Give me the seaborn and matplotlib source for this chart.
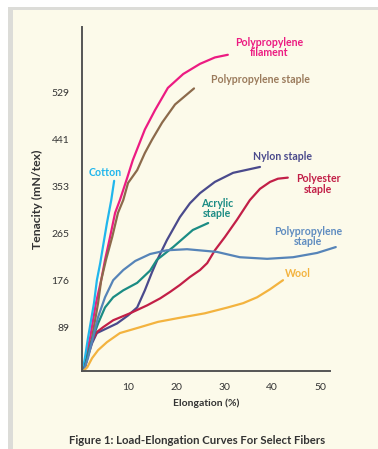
import pandas as pd
import matplotlib.pyplot as plt
import seaborn as sns
from matplotlib.patches import Rectangle

# =========================
# DATA
# =========================
pp_filament_x = [0.6, 2.1, 3.3, 4.4, 5.2, 6.25, 7.3, 8.3, 9.8, 11.0, 12.1, 13.5,
                 15.6, 18.3, 21.5, 25.0, 28.1, 30.8]
pp_filament_y = [8, 70, 134, 177, 215, 258, 303, 327, 368, 402, 427, 459,
                 495, 537, 563, 582, 594, 599]

pp_staple_x = [0.8, 2.5, 3.75, 4.4, 5.4, 6.7, 7.9, 9.0, 10.0, 11.9, 13.5, 15.0,
               17.1, 19.8, 23.75]
pp_staple_y = [8, 70, 134, 177, 215, 258, 303, 327, 359, 383, 415, 440,
               472, 506, 536]

cotton_x = [0.6, 1.67, 2.9, 3.5, 4.2, 5.0, 5.6, 6.5, 7.1]
cotton_y = [8, 70, 134, 177, 209, 252, 284, 327, 363]

nylon_x = [0.8, 1.67, 2.5, 3.5, 5.6, 7.7, 10.0, 11.9, 13.5, 15.0, 16.25, 18.1,
           20.8, 22.9, 25.0, 28.1, 31.9, 37.5]
nylon_y = [8, 36, 59, 78, 87, 96, 111, 126, 158, 192, 218, 252,
           295, 321, 340, 361, 378, 389]

polyester_x = [0.8, 1.5, 2.5, 3.5, 4.8, 6.9, 10.4, 14.0, 16.7, 18.75, 20.8, 22.9,
               25.0, 26.5, 28.1, 30.2, 32.7, 35.4, 37.5, 39.6, 41.25, 43.3]
polyester_y = [8, 31, 64, 80, 89, 102, 115, 130, 143, 155, 168, 183,
               196, 209, 233, 258, 290, 327, 348, 361, 367, 369]

acrylic_x = [0.8, 1.67, 2.7, 3.75, 5.2, 6.9, 9.0, 11.9, 14.6, 16.0, 19.4, 23.5, 26.7]
acrylic_y = [8, 40, 70, 96, 126, 145, 158, 172, 195, 215, 239, 271, 284]

pp_staple2_x = [0.8, 1.67, 2.7, 3.75, 5.2, 6.9, 9.0, 11.5, 14.6, 18.1, 22.3, 28.5,
                33.3, 39.0, 44.4, 49.4, 53.3]
pp_staple2_y = [8, 32, 70, 108, 145, 177, 196, 213, 226, 233, 235, 230,
                220, 217, 220, 228, 239]

wool_x = [0.8, 1.5, 2.5, 3.75, 5.6, 8.3, 12.5, 16.25, 20.4, 26.0, 30.8, 34.0,
          36.9, 39.6, 42.3]
wool_y = [8, 14, 31, 46, 61, 78, 89, 99, 106, 115, 126, 134,
          145, 160, 177]

fibers = ["pp_filament", "pp_staple", "cotton", "nylon", "polyester",
          "acrylic", "pp_staple2", "wool"]
xs = [pp_filament_x, pp_staple_x, cotton_x, nylon_x, polyester_x,
      acrylic_x, pp_staple2_x, wool_x]
ys = [pp_filament_y, pp_staple_y, cotton_y, nylon_y, polyester_y,
      acrylic_y, pp_staple2_y, wool_y]

line_colors = ["#ec1b82", "#8c6a4b", "#21b6ec", "#4a4a8c", "#c21f47",
               "#1b8c84", "#5684b8", "#f3b33f"]

label_texts = ["Polypropylene\nfilament", "Polypropylene staple", "Cotton",
               "Nylon staple", "Polyester\nstaple", "Acrylic\nstaple",
               "Polypropylene\nstaple", "Wool"]
label_x = [39.4, 37.5, 5.2, 42.1, 49.6, 28.5, 47.5, 45.4]
label_y = [612, 552, 378, 408, 357, 312, 258, 190]
label_colors = ["#ec1b82", "#9b7b5c", "#21b6ec", "#4a4a8c", "#c21f47",
                "#1b8c84", "#5f8cc0", "#f3b33f"]

y_ticks = [89, 176, 265, 353, 441, 529]
x_ticks = [10, 20, 30, 40, 50]

# =========================
# GLOBAL SETTINGS
# =========================
sns.set_theme(style="white")
plt.rcParams["font.family"] = ["Lato", "DejaVu Sans"]

df = pd.concat(
    [pd.DataFrame({"x": x, "y": y, "fiber": f}) for f, x, y in zip(fibers, xs, ys)],
    ignore_index=True
)

fig = plt.figure(figsize=(3.78, 4.49), dpi=100)
fig.patch.set_facecolor("white")

# card background with a soft left/top shadow
fig.patches.append(Rectangle((8 / 378, 0), 1, 1 - 7 / 449, transform=fig.transFigure,
                             facecolor="#dcdcd8", edgecolor="none", zorder=-10))
fig.patches.append(Rectangle((13 / 378, 0), 1, 1 - 10 / 449, transform=fig.transFigure,
                             facecolor="#fcfaea", edgecolor="none", zorder=-9))

ax = fig.add_axes([82 / 378, 1 - 371 / 449, 248 / 378, 344 / 449])
ax.set_zorder(5)
ax.patch.set_alpha(0)

sns.lineplot(
    data=df, x="x", y="y", hue="fiber", hue_order=fibers,
    palette=dict(zip(fibers, line_colors)),
    sort=False, estimator=None, linewidth=1.6, legend=False, ax=ax
)
for line in ax.lines:
    line.set_clip_on(False)
    line.set_solid_capstyle("round")
    line.set_solid_joinstyle("round")

for txt, lx, ly, c in zip(label_texts, label_x, label_y, label_colors):
    ax.text(lx, ly, txt, color=c, fontsize=7.6, fontweight="bold",
            ha="center", va="center", linespacing=0.9)

ax.set_xlim(0.4, 52.1)
ax.set_ylim(7, 651)
ax.set_xticks(x_ticks)
ax.set_yticks(y_ticks)
ax.set_xticklabels([str(t) for t in x_ticks])
ax.set_yticklabels([str(t) for t in y_ticks])
ax.tick_params(axis="both", length=0, labelsize=7.5, colors="#333333")
ax.tick_params(axis="y", pad=9)
ax.tick_params(axis="x", pad=9)

sns.despine(ax=ax)
for side in ["left", "bottom"]:
    ax.spines[side].set_color("#555555")
    ax.spines[side].set_linewidth(1.4)

ax.set_xlabel("Elongation (%)", fontsize=7.5, fontweight="bold", color="#333333", labelpad=4)
ax.set_ylabel("Tenacity (mN/tex)", fontsize=8.8, fontweight="bold", color="#333333", labelpad=6)

fig.text(197 / 378, 1 - 440 / 449, "Figure 1: Load-Elongation Curves For Select Fibers",
         ha="center", va="center", fontsize=8.2, fontweight="bold", color="#333333")

fig.savefig("out.png", dpi=100)
